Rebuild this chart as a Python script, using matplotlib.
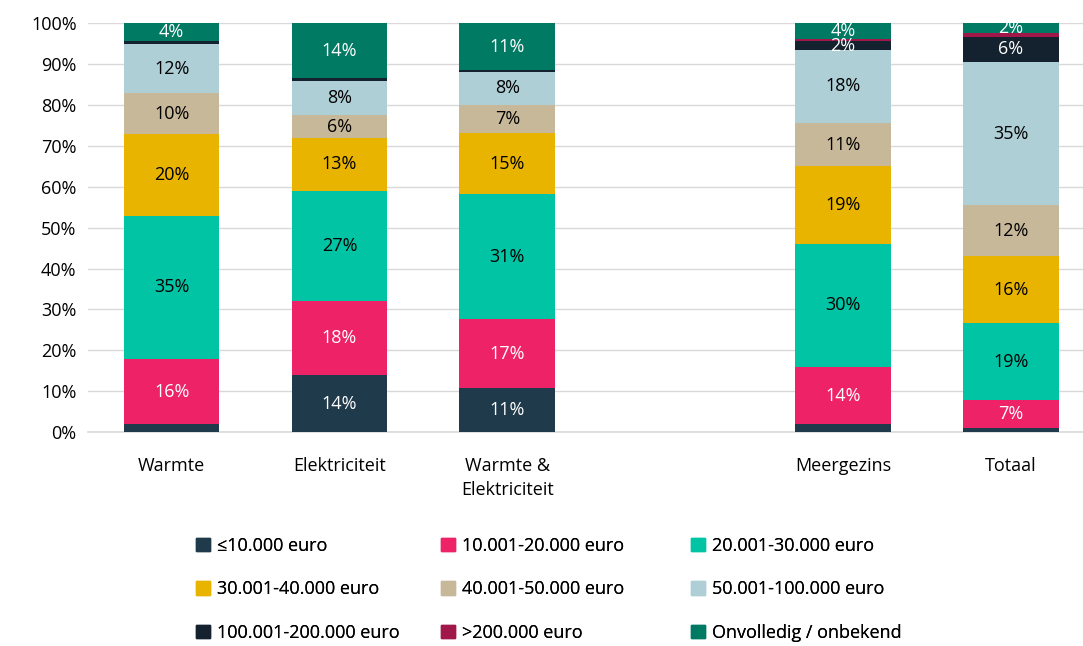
import matplotlib.pyplot as plt
from matplotlib.patches import Patch
import numpy as np

plt.rcParams['font.family'] = ['Open Sans', 'DejaVu Sans']

# categorieen (lege plek tussen Warmte & Elektriciteit en Meergezins)
categories = ['Warmte', 'Elektriciteit', 'Warmte &\nElektriciteit', '', 'Meergezins', 'Totaal']

series = ['≤10.000 euro', '10.001-20.000 euro', '20.001-30.000 euro',
          '30.001-40.000 euro', '40.001-50.000 euro', '50.001-100.000 euro',
          '100.001-200.000 euro', '>200.000 euro', 'Onvolledig / onbekend']

# aandelen in % per categorie (lege categorie = 0)
le_10k = [1.9, 14.0, 10.8, 0, 1.9, 1.0]
k10_20 = [16.0, 18.0, 16.8, 0, 14.1, 6.8]
k20_30 = [35.0, 27.0, 30.6, 0, 30.0, 18.8]
k30_40 = [20.0, 13.0, 15.0, 0, 19.0, 16.4]
k40_50 = [10.0, 5.5, 6.7, 0, 10.7, 12.5]
k50_100 = [12.0, 8.5, 8.3, 0, 17.7, 35.0]
k100_200 = [0.8, 0.5, 0.4, 0, 2.3, 6.2]
gt_200 = [0.0, 0.0, 0.0, 0, 0.4, 1.0]
onbekend = [4.3, 13.5, 11.4, 0, 3.9, 2.3]

values = [le_10k, k10_20, k20_30, k30_40, k40_50, k50_100, k100_200, gt_200, onbekend]
colors = ['#1F3A4B', '#EE2266', '#00C4A4', '#E8B400', '#C8B89A', '#AECFD6',
          '#13222E', '#A0174A', '#007A63']
text_colors = ['white', 'white', 'black', 'black', 'black', 'black',
               'white', 'white', 'white']

fig = plt.figure(figsize=(10.83, 6.46), dpi=100)
ax = fig.add_axes([0.081, 0.331, 0.919, 0.633])

x = np.arange(len(categories))
bottom = np.zeros(len(categories))
for vals, col, tcol in zip(values, colors, text_colors):
    vals = np.array(vals)
    ax.bar(x, vals, 0.57, bottom=bottom, color=col, zorder=3)
    for xi, v, b in zip(x, vals, bottom):
        if v >= 2:
            ax.text(xi, b + v / 2, f'{v:.0f}%', ha='center', va='center',
                    color=tcol, fontsize=13, zorder=4)
    bottom += vals

ax.set_ylim(0, 100)
ax.set_xlim(-0.5, 5.43)
ax.set_yticks(range(0, 101, 10))
ax.set_yticklabels([f'{t}%' for t in range(0, 101, 10)], fontsize=13)
ax.set_xticks(x)
ax.set_xticklabels(categories, fontsize=13, va='top', linespacing=1.4)
ax.tick_params(length=0, pad=8)
ax.tick_params(axis='x', pad=18)
ax.yaxis.grid(True, color='#D9D9D9', linewidth=1, zorder=0)
for s in ['top', 'right', 'left']:
    ax.spines[s].set_visible(False)
ax.spines['bottom'].set_color('#D9D9D9')
ax.spines['bottom'].set_linewidth(1.2)

# legenda: drie losse kolommen
col_x = [196, 441, 691]
for c in range(3):
    handles = [Patch(color=colors[r * 3 + c], label=series[r * 3 + c]) for r in range(3)]
    leg = fig.legend(handles=handles, ncol=1, loc='upper left',
                     bbox_to_anchor=(col_x[c] / 1083, 1 - 537 / 646),
                     frameon=False, fontsize=13, handlelength=0.75, handleheight=0.75,
                     handletextpad=0.4, labelspacing=1.4,
                     borderaxespad=0, borderpad=0)
    fig.add_artist(leg)

fig.savefig('out.png', dpi=100)
